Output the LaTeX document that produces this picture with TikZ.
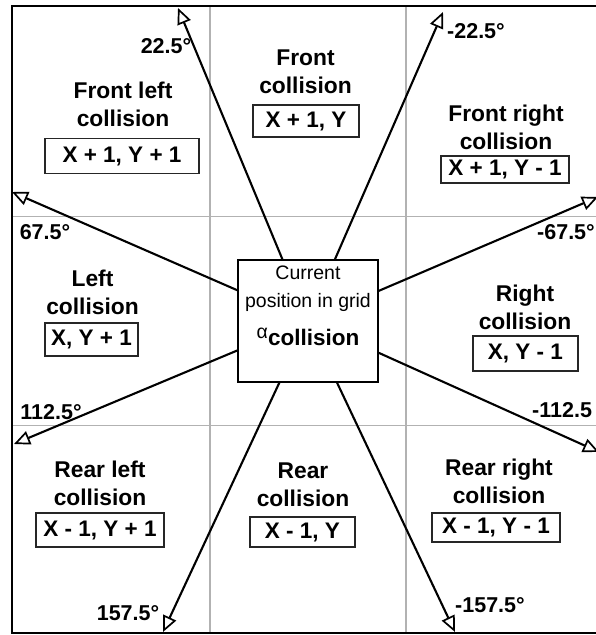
\documentclass[tikz,border=0pt]{standalone}
\usepackage{fontspec}
\setmainfont{Liberation Sans}
\usetikzlibrary{arrows.meta}
\begin{document}
\begin{tikzpicture}[x=1pt,y=-1pt,
  title/.style={font=\fontsize{22.8}{28}\selectfont\bfseries, align=center, inner sep=0pt},
  lbox/.style={draw=black!85, line width=1.3pt, font=\fontsize{22.5}{26}\selectfont\bfseries, inner sep=0pt},
  deg/.style={font=\fontsize{21.5}{21.5}\selectfont\bfseries, inner sep=0pt},
  arr/.style={line width=2.1pt, -{Triangle[open,length=16pt,width=14pt,line width=1.7pt]}},
  gridline/.style={draw=black!30, line width=1.5pt},
  cur/.style={font=\fontsize{19.5}{19.5}\selectfont, inner sep=0pt},
  centerbox/.style={draw, line width=1.4pt, fill=white, inner sep=0pt, minimum width=140pt, minimum height=122pt}]
\useasboundingbox (0,0) rectangle (596,635);
\clip (0,0) rectangle (596,635);
% grid
\draw[gridline] (210,6) -- (210,633);
\draw[gridline] (406,6) -- (406,633);
\draw[gridline] (12,216.5) -- (600,216.5);
\draw[gridline] (12,425.5) -- (600,425.5);
% border
\draw[line width=2.2pt] (12,6) rectangle (602,633);
% center box
\node[centerbox] (box) at (308,321) {};
\node[cur] (cur1) at (308,279.5) [anchor=base] {Current};
\node[cur] (cur2) at (308,307) [anchor=base] {position in grid};
\node[inner sep=0pt, anchor=base] (cur3) at (308,345) {\raisebox{7pt}{\fontsize{19.5}{19.5}\selectfont α}\fontsize{22.5}{22.5}\selectfont\bfseries collision};
% arrow tips
\coordinate (t1) at (178,8);
\coordinate (t2) at (443,12);
\coordinate (t3) at (12,192);
\coordinate (t4) at (598,197);
\coordinate (t5) at (14,444);
\coordinate (t6) at (599,452);
\coordinate (t7) at (163,632);
\coordinate (t8) at (455,632);
\foreach \t in {t1,t2,t3,t4,t5,t6,t7,t8} \draw[arr] (box) -- (\t);
% titles
\node[title] (n1) at (123,104) {Front left\\collision};
\node[title] (n2) at (305.5,72) {Front\\collision};
\node[title] (n3) at (506,127) {Front right\\collision};
\node[title] (n4) at (92.5,292) {Left\\collision};
\node[title] (n5) at (525,307) {Right\\collision};
\node[title] (n6) at (100,483) {Rear left\\collision};
\node[title] (n7) at (303,485) {Rear\\collision};
\node[title] (n8) at (499,481) {Rear right\\collision};
% label boxes
\node[lbox, minimum width=154pt, minimum height=35pt] (b1) at (122,156) {X + 1, Y + 1};
\node[lbox, minimum width=106pt, minimum height=32pt] (b2) at (306,121) {X + 1, Y};
\node[lbox, minimum width=128pt, minimum height=27pt] (b3) at (505,169.5) {X + 1, Y - 1};
\node[lbox, minimum width=93pt, minimum height=33pt] (b4) at (91.5,339.5) {X, Y + 1};
\node[lbox, minimum width=105pt, minimum height=35pt] (b5) at (525.5,353.5) {X, Y - 1};
\node[lbox, minimum width=128pt, minimum height=34pt] (b6) at (100,530) {X - 1, Y + 1};
\node[lbox, minimum width=105pt, minimum height=30pt] (b7) at (302.5,532) {X - 1, Y};
\node[lbox, minimum width=128pt, minimum height=29pt] (b8) at (496,527.5) {X - 1, Y - 1};
% degree labels
\node[deg] (d1) at (166,46) {22.5°};
\node[deg] (d2) at (476,31) {-22.5°};
\node[deg] (d3) at (45,232) {67.5°};
\node[deg, anchor=west] (d4) at (537,232) {-67.5°};
\node[deg] (d5) at (51,412) {112.5°};
\node[deg, anchor=west] (d6) at (532,410) {-112.5};
\node[deg] (d7) at (128,613) {157.5°};
\node[deg] (d8) at (490,605) {-157.5°};
\end{tikzpicture}
\end{document}
